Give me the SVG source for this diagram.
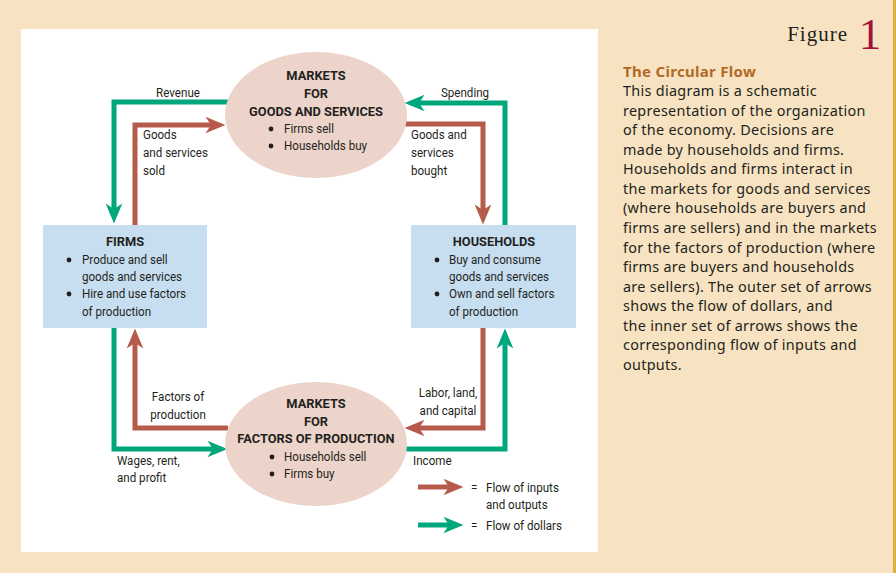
<svg xmlns="http://www.w3.org/2000/svg" width="896" height="573" viewBox="0 0 896 573">
<defs>
<style>
.t{font-family:Roboto,"Liberation Sans",sans-serif;font-size:13.5px;fill:#231f20;transform-box:fill-box;transform:scaleX(0.86);transform-origin:left center}
.m{text-anchor:middle;transform-origin:center center}
.b{font-weight:bold;transform:scaleX(0.95)}
.body{font-family:"Noto Sans","Open Sans",sans-serif;font-size:14.4px;letter-spacing:0.3px;fill:#231f20}
.g{fill:none;stroke:#00A67C;stroke-width:5;stroke-linejoin:miter}
.r{fill:none;stroke:#B65A4B;stroke-width:5;stroke-linejoin:miter}
.ell{fill:#EDD4CA}
.box{fill:#C7DEF1}
.dot{fill:#231f20}
</style>
<marker id="ag" markerUnits="userSpaceOnUse" markerWidth="30" markerHeight="20" viewBox="-6 -9 20 18" refX="0" refY="0" orient="auto" overflow="visible">
<path d="M13,0 L-5,-7.5 L0,0 L-5,7.5 Z" fill="#00A67C"/>
</marker>
<marker id="ar" markerUnits="userSpaceOnUse" markerWidth="30" markerHeight="20" viewBox="-6 -9 20 18" refX="0" refY="0" orient="auto" overflow="visible">
<path d="M13,0 L-5,-7.5 L0,0 L-5,7.5 Z" fill="#B65A4B"/>
</marker>
</defs>
<rect x="0" y="0" width="896" height="573" fill="#F7E3C1"/>
<rect x="893" y="0" width="3" height="573" fill="#E0B046"/>
<rect x="21" y="29" width="577" height="523" fill="#FFFFFF"/>

<g id="connectors">
<path class="g" d="M228,102 H114 V209" marker-end="url(#ag)"/>
<path class="r" d="M135,226 V125 H211" marker-end="url(#ar)"/>
<path class="g" d="M505,226 V103 H419" marker-end="url(#ag)"/>
<path class="r" d="M405,124 H483 V210" marker-end="url(#ar)"/>
<path class="r" d="M228,428 H135 V343" marker-end="url(#ar)"/>
<path class="g" d="M114,327 V449 H213" marker-end="url(#ag)"/>
<path class="r" d="M483,327 V428 H419" marker-end="url(#ar)"/>
<path class="g" d="M404,449 H505 V343" marker-end="url(#ag)"/>
<text class="t m" x="178" y="97">Revenue</text>
<text class="t m" x="465" y="97">Spending</text>
<text class="t" x="143" y="139">Goods</text>
<text class="t" x="143" y="157">and services</text>
<text class="t" x="143" y="175">sold</text>
<text class="t" x="411" y="139">Goods and</text>
<text class="t" x="411" y="157">services</text>
<text class="t" x="411" y="175">bought</text>
<text class="t m" x="178" y="401">Factors of</text>
<text class="t m" x="178" y="419">production</text>
<text class="t m" x="448" y="397">Labor, land,</text>
<text class="t m" x="448" y="415">and capital</text>
<text class="t" x="117" y="465">Wages, rent,</text>
<text class="t" x="117" y="482">and profit</text>
<text class="t" x="413" y="465">Income</text>
</g>

<g id="goods-market">
<ellipse class="ell" cx="316" cy="115" rx="91" ry="63"/>
<text class="t m b" x="316" y="80">MARKETS</text>
<text class="t m b" x="316" y="98">FOR</text>
<text class="t m b" x="316" y="116">GOODS AND SERVICES</text>
<circle class="dot" cx="271" cy="129" r="2.4"/>
<text class="t" x="284" y="133">Firms sell</text>
<circle class="dot" cx="271" cy="146" r="2.4"/>
<text class="t" x="284" y="150">Households buy</text>
</g>

<g id="factor-market">
<ellipse class="ell" cx="316" cy="444" rx="91" ry="62"/>
<text class="t m b" x="316" y="408">MARKETS</text>
<text class="t m b" x="316" y="426">FOR</text>
<text class="t m b" x="316" y="443">FACTORS OF PRODUCTION</text>
<circle class="dot" cx="272" cy="457" r="2.4"/>
<text class="t" x="284" y="461">Households sell</text>
<circle class="dot" cx="272" cy="474" r="2.4"/>
<text class="t" x="284" y="478">Firms buy</text>
</g>

<g id="firms">
<rect class="box" x="43" y="225" width="164" height="103"/>
<text class="t m b" x="125" y="246">FIRMS</text>
<circle class="dot" cx="69" cy="260" r="2.4"/>
<text class="t" x="82" y="264">Produce and sell</text>
<text class="t" x="82" y="281">goods and services</text>
<circle class="dot" cx="69" cy="294" r="2.4"/>
<text class="t" x="82" y="298">Hire and use factors</text>
<text class="t" x="82" y="316">of production</text>
</g>

<g id="households">
<rect class="box" x="411" y="225" width="165" height="103"/>
<text class="t m b" x="494" y="246">HOUSEHOLDS</text>
<circle class="dot" cx="437" cy="260" r="2.4"/>
<text class="t" x="449" y="264">Buy and consume</text>
<text class="t" x="449" y="281">goods and services</text>
<circle class="dot" cx="437" cy="294" r="2.4"/>
<text class="t" x="449" y="298">Own and sell factors</text>
<text class="t" x="449" y="316">of production</text>
</g>

<g id="legend">
<path class="r" d="M418,487 H449" marker-end="url(#ar)"/>
<path class="g" d="M418,525 H449" marker-end="url(#ag)"/>
<text class="t" x="471" y="492">=</text>
<text class="t" x="486" y="492">Flow of inputs</text>
<text class="t" x="486" y="509">and outputs</text>
<text class="t" x="471" y="530">=</text>
<text class="t" x="486" y="530">Flow of dollars</text>
</g>

<g id="caption">
<text x="848" y="41" text-anchor="end" style="font-family:'Liberation Serif',serif;font-size:21px;letter-spacing:1px;fill:#231f20">Figure</text>
<text x="870" y="49" text-anchor="middle" style="font-family:'Liberation Serif',serif;font-size:45px;fill:#A3123A">1</text>
<text x="623" y="77" style="font-family:'Noto Sans','Open Sans',sans-serif;font-size:15px;letter-spacing:0.3px;font-weight:bold;fill:#B06A28">The Circular Flow</text>
<text class="body" x="623" y="96">This diagram is a schematic</text>
<text class="body" x="623" y="116">representation of the organization</text>
<text class="body" x="623" y="135">of the economy. Decisions are</text>
<text class="body" x="623" y="155">made by households and firms.</text>
<text class="body" x="623" y="174">Households and firms interact in</text>
<text class="body" x="623" y="194">the markets for goods and services</text>
<text class="body" x="623" y="213">(where households are buyers and</text>
<text class="body" x="623" y="233">firms are sellers) and in the markets</text>
<text class="body" x="623" y="253">for the factors of production (where</text>
<text class="body" x="623" y="272">firms are buyers and households</text>
<text class="body" x="623" y="292">are sellers). The outer set of arrows</text>
<text class="body" x="623" y="311">shows the flow of dollars, and</text>
<text class="body" x="623" y="331">the inner set of arrows shows the</text>
<text class="body" x="623" y="350">corresponding flow of inputs and</text>
<text class="body" x="623" y="370">outputs.</text>
</g>
</svg>
